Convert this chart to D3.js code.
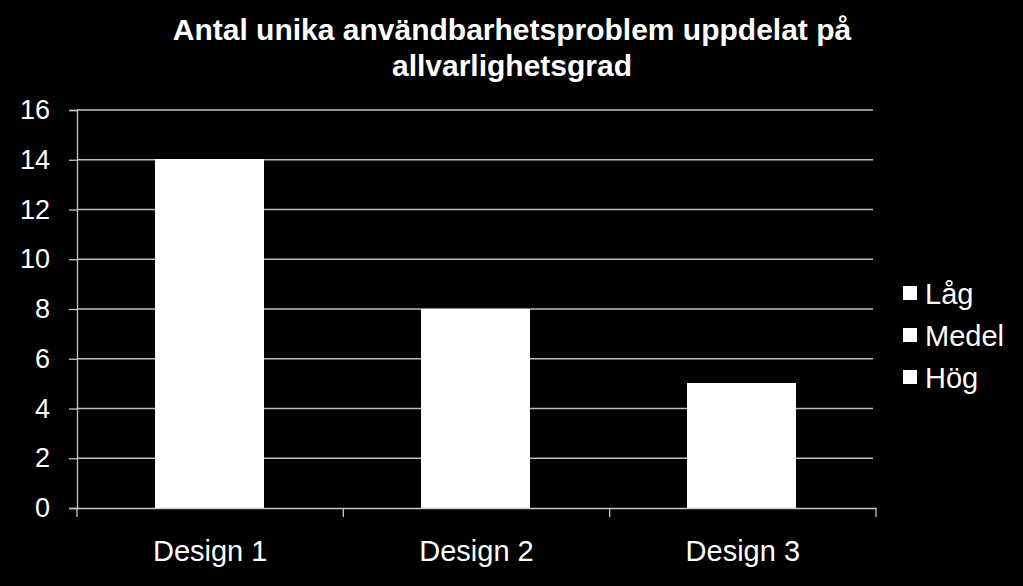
<!DOCTYPE html>
<html><head><meta charset="utf-8">
<script src="https://cdn.jsdelivr.net/npm/d3@7"></script>
<style>html,body{margin:0;padding:0;background:#000;}svg{display:block;}</style>
</head><body>
<svg id="c" width="1023" height="586"></svg>
<script>
const categories = ["Design 1", "Design 2", "Design 3"];
const seriesNames = ["Låg", "Medel", "Hög"];
const lag = [6, 3, 2];
const medel = [5, 3, 2];
const hog = [3, 2, 1];
const yTicks = [0, 2, 4, 6, 8, 10, 12, 14, 16];
const titleLines = ["Antal unika användbarhetsproblem uppdelat på", "allvarlighetsgrad"];

const svg = d3.select("#c");
svg.append("rect").attr("width", 1023).attr("height", 586).attr("fill", "#000");
const font = "'Liberation Sans', Arial, sans-serif";

const x = d3.scaleBand().domain(categories).range([77, 876]).padding(0);
const y = d3.scaleLinear().domain([0, 16]).range([508, 110]);

// gridlines
svg.append("g").selectAll("line").data(yTicks.filter(d => d > 0)).join("line")
  .attr("x1", 77).attr("x2", 873).attr("y1", d => y(d)).attr("y2", d => y(d))
  .attr("stroke", "#bdbdbd").attr("stroke-width", 1.3);

// stacked bars
const rows = categories.map((c, i) => ({cat: c, "Låg": lag[i], "Medel": medel[i], "Hög": hog[i]}));
const stack = d3.stack().keys(seriesNames)(rows);
const bw = x.bandwidth() * 0.405;
svg.append("g").attr("shape-rendering", "crispEdges").selectAll("g").data(stack).join("g")
  .selectAll("rect").data(d => d).join("rect")
  .attr("x", d => x(d.data.cat) + x.bandwidth() / 2 - bw / 2 - 1)
  .attr("width", bw)
  .attr("y", d => y(d[1]))
  .attr("height", d => y(d[0]) - y(d[1]))
  .attr("fill", "#fff").attr("stroke", "#fff").attr("stroke-width", 1);

// y axis
const yAxis = svg.append("g").attr("transform", "translate(77,0)")
  .call(d3.axisLeft(y).tickValues(yTicks).tickSize(8).tickPadding(19).tickFormat(d3.format("d")));
yAxis.select(".domain").attr("stroke", "#c8c8c8").attr("stroke-width", 1.3);
yAxis.selectAll(".tick line").attr("stroke", "#c8c8c8").attr("stroke-width", 1.3);
yAxis.selectAll(".tick text").attr("fill", "#fff").attr("font-family", font).attr("font-size", 27);

// x axis
const xAxis = svg.append("g").attr("transform", "translate(0,508)")
  .call(d3.axisBottom(x).tickSize(0).tickPadding(32));
xAxis.select(".domain").attr("stroke", "#c8c8c8").attr("stroke-width", 1.3);
xAxis.selectAll(".tick text").attr("fill", "#fff").attr("font-family", font).attr("font-size", 29);
const bounds = categories.map(c => x(c)).concat([x(categories[categories.length - 1]) + x.bandwidth()]);
xAxis.selectAll("line.sep").data(bounds).join("line").attr("class", "sep")
  .attr("x1", d => d).attr("x2", d => d).attr("y1", 0).attr("y2", 9)
  .attr("stroke", "#c8c8c8").attr("stroke-width", 1.3);

// title
svg.append("g").selectAll("text").data(titleLines).join("text")
  .attr("x", 512).attr("y", (d, i) => 40 + i * 36).attr("text-anchor", "middle")
  .attr("font-family", font).attr("font-weight", "bold").attr("font-size", 30).attr("fill", "#fff")
  .text(d => d);

// legend
const lg = svg.append("g").selectAll("g").data(seriesNames).join("g")
  .attr("transform", (d, i) => `translate(903,${304 + i * 42})`);
lg.append("rect").attr("x", 0).attr("y", -18).attr("width", 14).attr("height", 14).attr("fill", "#fff");
lg.append("text").attr("x", 22).attr("y", 0).attr("font-family", font).attr("font-size", 29)
  .attr("fill", "#fff").text(d => d);
</script>
</body></html>
